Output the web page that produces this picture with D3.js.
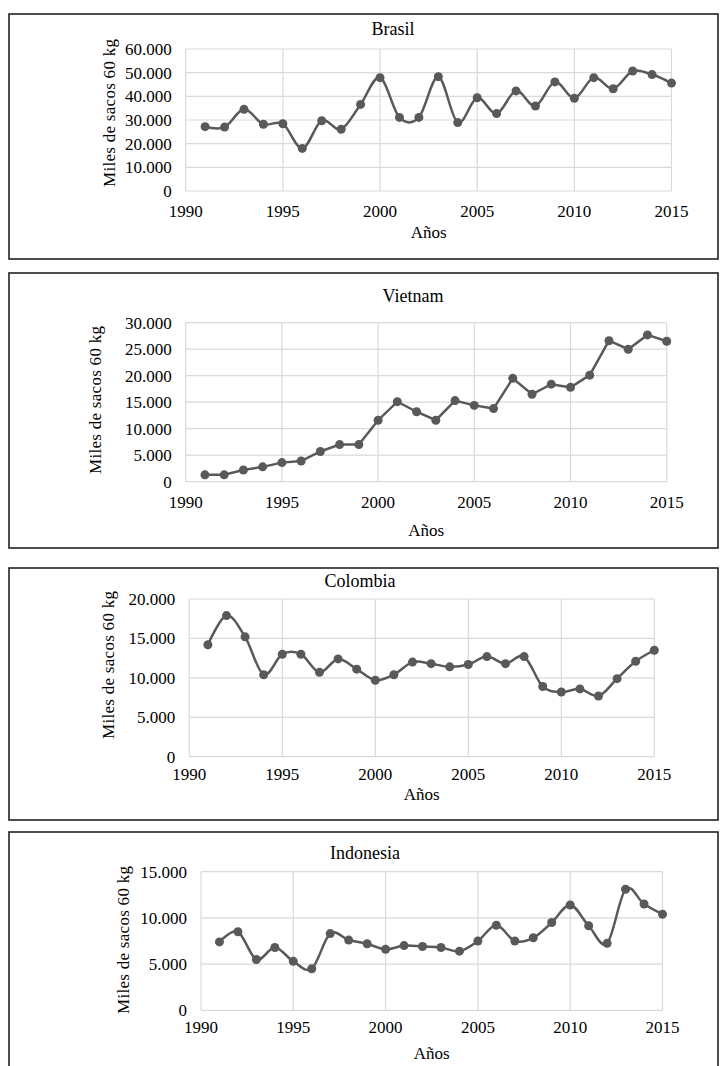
<!DOCTYPE html>
<html>
<head>
<meta charset="utf-8">
<script src="https://cdn.jsdelivr.net/npm/d3@7/dist/d3.min.js"></script>
<style>
  body { margin: 0; background: #fff; }
</style>
</head>
<body>
<div id="chart"></div>
<script>
// ---- data (miles de sacos de 60 kg) ----
const years = [1991, 1992, 1993, 1994, 1995, 1996, 1997, 1998, 1999, 2000, 2001, 2002, 2003,
               2004, 2005, 2006, 2007, 2008, 2009, 2010, 2011, 2012, 2013, 2014, 2015];
const yearTicks = [1990, 1995, 2000, 2005, 2010, 2015];

const brasil = [27200, 27000, 34500, 28200, 28400, 18000, 29700, 26100, 36600, 47900, 31100, 31100, 48300,
                28900, 39400, 32700, 42300, 35900, 46100, 39200, 47900, 43200, 50700, 49200, 45600];
const vietnam = [1300, 1300, 2200, 2800, 3600, 3900, 5700, 7000, 7000, 11600, 15100, 13200, 11600,
                 15300, 14400, 13800, 19500, 16500, 18400, 17800, 20100, 26600, 25000, 27700, 26500];
const colombia = [14200, 17900, 15200, 10400, 13000, 13000, 10700, 12400, 11100, 9700, 10400, 12000, 11800,
                  11400, 11700, 12700, 11800, 12700, 8900, 8200, 8600, 7700, 9900, 12100, 13500];
const indonesia = [7400, 8500, 5500, 6800, 5300, 4500, 8300, 7600, 7200, 6600, 7000, 6900, 6800,
                   6400, 7500, 9200, 7500, 7850, 9500, 11400, 9150, 7250, 13100, 11500, 10400];

const brasilTicks = [0, 10000, 20000, 30000, 40000, 50000, 60000];
const vietnamTicks = [0, 5000, 10000, 15000, 20000, 25000, 30000];
const colombiaTicks = [0, 5000, 10000, 15000, 20000];
const indonesiaTicks = [0, 5000, 10000, 15000];

const yTitle = "Miles de sacos 60 kg";
const xTitle = "Años";

// ---- layout of each boxed panel ----
const panels = [
  {title: "Brasil", values: brasil, ticks: brasilTicks, smooth: true,
   box: {x: 9, y: 14, w: 709, h: 245},
   plot: {left: 185.7, right: 671.5, top: 49, bottom: 191},
   titleXY: [393, 35], yLab: [109, 113], tickY: 217, xLabY: 238},
  {title: "Vietnam", values: vietnam, ticks: vietnamTicks, smooth: false,
   box: {x: 9, y: 273, w: 709, h: 275},
   plot: {left: 185.7, right: 666.7, top: 322.7, bottom: 481.7},
   titleXY: [413, 302], yLab: [95, 400], tickY: 508, xLabY: 536},
  {title: "Colombia", values: colombia, ticks: colombiaTicks, smooth: true,
   box: {x: 9, y: 568, w: 709, h: 252},
   plot: {left: 189.3, right: 654.3, top: 599, bottom: 756.7},
   titleXY: [360, 587], yLab: [108, 665], tickY: 780, xLabY: 800},
  {title: "Indonesia", values: indonesia, ticks: indonesiaTicks, smooth: true,
   box: {x: 9, y: 832, w: 709, h: 260},
   plot: {left: 201, right: 662.5, top: 871.7, bottom: 1010.3},
   titleXY: [365, 859], yLab: [123, 940], tickY: 1033, xLabY: 1059}
];

const serif = "'Liberation Serif', 'Times New Roman', Times, 'DejaVu Serif', serif";
const locale = d3.formatLocale({decimal: ",", thousands: ".", grouping: [3], currency: ["", ""]});
const fmt = locale.format(",d");

const lineColor = "#595959";
const gridColor = "#d9d9d9";

const svg = d3.select("#chart").append("svg")
    .attr("width", 720)
    .attr("height", 1066)
    .attr("font-family", serif);

panels.forEach(p => {
    const g = svg.append("g").attr("class", "panel");

    g.append("rect")
        .attr("x", p.box.x).attr("y", p.box.y)
        .attr("width", p.box.w).attr("height", p.box.h)
        .attr("fill", "#fff")
        .attr("stroke", "#222")
        .attr("stroke-width", 1.6);

    const x = d3.scaleLinear().domain([1990, 2015]).range([p.plot.left, p.plot.right]);
    const y = d3.scaleLinear().domain([0, d3.max(p.ticks)]).range([p.plot.bottom, p.plot.top]);

    // horizontal grid
    g.selectAll(".hgrid").data(p.ticks).join("line")
        .attr("class", "hgrid")
        .attr("x1", x(1990)).attr("x2", x(2015))
        .attr("y1", d => y(d)).attr("y2", d => y(d))
        .attr("stroke", gridColor).attr("stroke-width", 1.2);

    // vertical grid
    g.selectAll(".vgrid").data(yearTicks).join("line")
        .attr("class", "vgrid")
        .attr("x1", d => x(d)).attr("x2", d => x(d))
        .attr("y1", y(0)).attr("y2", y(d3.max(p.ticks)))
        .attr("stroke", gridColor).attr("stroke-width", 1.2);

    // y tick labels
    g.selectAll(".ylab").data(p.ticks).join("text")
        .attr("class", "ylab")
        .attr("x", x(1990) - 14)
        .attr("y", d => y(d))
        .attr("dy", "0.35em")
        .attr("text-anchor", "end")
        .attr("font-family", serif)
        .attr("font-size", 17)
        .text(d => fmt(d));

    // x tick labels
    g.selectAll(".xlab").data(yearTicks).join("text")
        .attr("class", "xlab")
        .attr("x", d => x(d))
        .attr("y", p.tickY)
        .attr("text-anchor", "middle")
        .attr("font-family", serif)
        .attr("font-size", 17)
        .text(d => d);

    // titles
    g.append("text")
        .attr("x", p.titleXY[0]).attr("y", p.titleXY[1])
        .attr("text-anchor", "middle")
        .attr("font-family", serif)
        .attr("font-size", 18)
        .text(p.title);

    g.append("text")
        .attr("x", (x(1990) + x(2015)) / 2).attr("y", p.xLabY)
        .attr("text-anchor", "middle")
        .attr("font-family", serif)
        .attr("font-size", 17)
        .text(xTitle);

    g.append("text")
        .attr("transform", "translate(" + p.yLab[0] + "," + p.yLab[1] + ") rotate(-90)")
        .attr("dy", "0.35em")
        .attr("text-anchor", "middle")
        .attr("font-family", serif)
        .attr("font-size", 17)
        .attr("textLength", 148)
        .attr("lengthAdjust", "spacing")
        .text(yTitle);

    // series
    const pts = years.map((yr, i) => ({year: yr, value: p.values[i]}));
    const line = d3.line()
        .x(d => x(d.year))
        .y(d => y(d.value))
        .curve(p.smooth ? d3.curveCardinal.tension(0) : d3.curveLinear);

    g.append("path")
        .datum(pts)
        .attr("d", line)
        .attr("fill", "none")
        .attr("stroke", lineColor)
        .attr("stroke-width", 2.5);

    g.selectAll(".dot").data(pts).join("circle")
        .attr("class", "dot")
        .attr("cx", d => x(d.year))
        .attr("cy", d => y(d.value))
        .attr("r", 4.5)
        .attr("fill", lineColor);
});
</script>
</body>
</html>
